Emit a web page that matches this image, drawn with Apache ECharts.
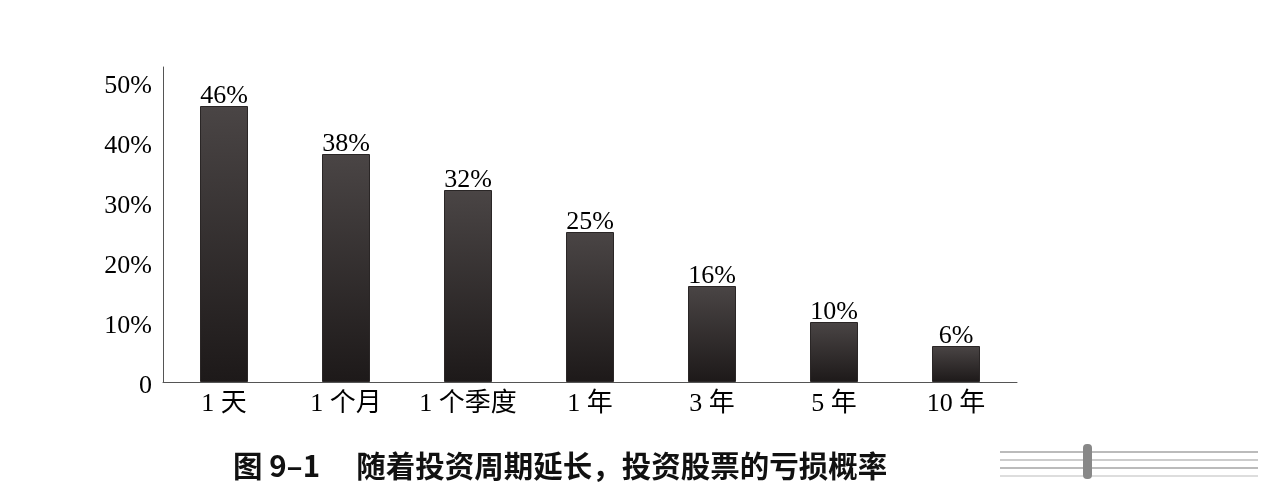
<!DOCTYPE html>
<html><head><meta charset="utf-8">
<script src="https://cdn.jsdelivr.net/npm/echarts@6/dist/echarts.min.js"></script>
<style>html,body{margin:0;padding:0;background:#fff}#c{width:1280px;height:492px}</style>
</head><body><div id="c"></div>
<script>
var categories = ['1 天', '1 个月', '1 个季度', '1 年', '3 年', '5 年', '10 年'];
var lossProb = [46, 38, 32, 25, 16, 10, 6];
var yTicks = [0, 10, 20, 30, 40, 50];
var titleText = '图 9–1　 随着投资周期延长，投资股票的亏损概率';

var serif = '"Liberation Serif", "Noto Sans CJK SC", serif';
var chart = echarts.init(document.getElementById('c'));
chart.setOption({
  backgroundColor: '#fff',
  animation: false,
  grid: { left: 163, right: 263, top: 67, bottom: 110 },
  xAxis: {
    type: 'category', data: categories,
    axisLine: { lineStyle: { color: '#555', width: 1 } },
    axisTick: { show: false },
    axisLabel: { color: '#000', fontFamily: serif, fontSize: 26, margin: 9, interval: 0 }
  },
  yAxis: {
    type: 'value', min: 0, max: 52.5, interval: 10,
    splitLine: { show: false },
    axisLine: { show: true, lineStyle: { color: '#555', width: 1 } },
    axisTick: { show: false },
    axisLabel: {
      color: '#000', fontFamily: serif, fontSize: 26, margin: 11,
      showMaxLabel: false, verticalAlign: 'top', lineHeight: 9,
      formatter: function (v) { return yTicks.indexOf(v) < 0 ? '' : (v === 0 ? '0' : v + '%'); }
    }
  },
  series: [{
    type: 'bar', data: lossProb, barWidth: 48,
    itemStyle: {
      color: new echarts.graphic.LinearGradient(0, 0, 0, 1, [
        { offset: 0, color: '#4a4545' }, { offset: 1, color: '#1d1919' }
      ]),
      borderColor: '#2a2626', borderWidth: 1
    },
    label: {
      show: true, position: 'top', distance: -3,
      color: '#000', fontFamily: serif, fontSize: 26,
      formatter: '{c}%'
    }
  }],
  graphic: [
    { type: 'text', left: 233, top: 451,
      style: { text: titleText, fontSize: 29.5, fontWeight: 'bold',
        fontFamily: '"Noto Sans CJK SC", sans-serif', fill: '#111' } },
    { type: 'line', shape: { x1: 1000, y1: 452, x2: 1258, y2: 452 }, style: { stroke: '#bbb', lineWidth: 2 } },
    { type: 'line', shape: { x1: 1000, y1: 460, x2: 1258, y2: 460 }, style: { stroke: '#ccc', lineWidth: 2 } },
    { type: 'line', shape: { x1: 1000, y1: 468, x2: 1258, y2: 468 }, style: { stroke: '#bbb', lineWidth: 2 } },
    { type: 'line', shape: { x1: 1000, y1: 476, x2: 1258, y2: 476 }, style: { stroke: '#ddd', lineWidth: 2 } },
    { type: 'rect', shape: { x: 1083, y: 444, width: 9, height: 35, r: 4 }, style: { fill: '#888' } }
  ]
});
</script></body></html>
